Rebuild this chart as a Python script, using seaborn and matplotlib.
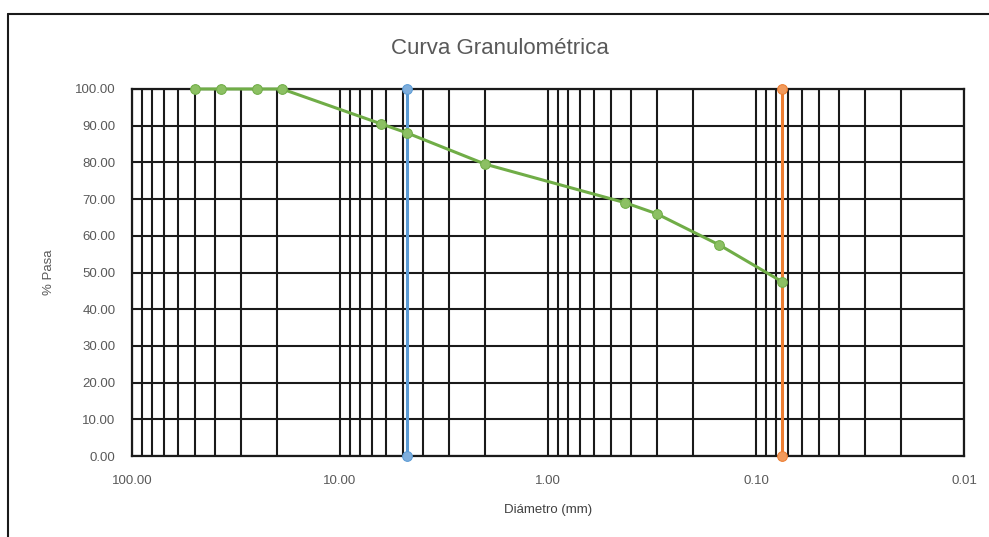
import matplotlib
matplotlib.use("Agg")
import matplotlib.pyplot as plt
import matplotlib.ticker as mticker
from matplotlib.lines import Line2D
import seaborn as sns
import pandas as pd

# Sieve analysis data
diametro = [50.0, 37.5, 25.0, 19.0, 6.35, 4.75, 2.0, 0.425, 0.3, 0.15, 0.075]
pasa = [100.0, 100.0, 100.0, 100.0, 90.5, 88.0, 79.5, 69.0, 66.0, 57.5, 47.5]

# Reference lines (No. 4 and No. 200 sieves)
linea_n4_x = [4.75, 4.75]
linea_n200_x = [0.075, 0.075]
linea_y = [0.0, 100.0]

y_ticks = [0, 10, 20, 30, 40, 50, 60, 70, 80, 90, 100]
x_ticks = [100, 10, 1, 0.1, 0.01]

sns.set_style("white")
plt.rcParams["font.family"] = ["Liberation Sans", "DejaVu Sans"]

fig = plt.figure(figsize=(9.89, 5.37), dpi=100)
ax = fig.add_axes([0.1335, 0.1508, 0.8412, 0.6835])

df = pd.DataFrame({"Diametro": diametro, "Pasa": pasa})
df_n4 = pd.DataFrame({"x": linea_n4_x, "y": linea_y})
df_n200 = pd.DataFrame({"x": linea_n200_x, "y": linea_y})

sns.lineplot(data=df_n4, x="x", y="y", ax=ax, color="#5B9BD5", lw=2.2,
             estimator=None, sort=False,
             marker="o", markersize=7, markerfacecolor="#7FAEDC",
             markeredgecolor="#5B9BD5", zorder=4, clip_on=False)
sns.lineplot(data=df_n200, x="x", y="y", ax=ax, color="#ED7D31", lw=2.2,
             estimator=None, sort=False,
             marker="o", markersize=7, markerfacecolor="#F19A5C",
             markeredgecolor="#ED7D31", zorder=4, clip_on=False)
sns.lineplot(data=df, x="Diametro", y="Pasa", ax=ax, color="#70AD47", lw=2.2,
             estimator=None, sort=False,
             marker="o", markersize=7, markerfacecolor="#8CC063",
             markeredgecolor="#70AD47", zorder=5, clip_on=False)

ax.set_xscale("log")
ax.set_xlim(100, 0.01)
ax.set_ylim(0, 100)
ax.set_xticks(x_ticks)
ax.set_yticks(y_ticks)
ax.xaxis.set_major_formatter(mticker.FormatStrFormatter("%.2f"))
ax.yaxis.set_major_formatter(mticker.FormatStrFormatter("%.2f"))
ax.xaxis.set_minor_locator(mticker.LogLocator(base=10, subs=range(2, 10)))
ax.xaxis.set_minor_formatter(mticker.NullFormatter())

ax.grid(True, which="both", axis="x", color="#1a1a1a", lw=1.5)
ax.grid(True, which="major", axis="y", color="#1a1a1a", lw=1.5)
ax.set_axisbelow(True)
for s in ax.spines.values():
    s.set_visible(True)
    s.set_color("#1a1a1a")
    s.set_linewidth(1.6)

ax.tick_params(axis="both", which="both", length=0, labelsize=9.5,
               labelcolor="#595959")
ax.tick_params(axis="x", pad=14)
ax.tick_params(axis="y", pad=12)

ax.set_xlabel("Diámetro (mm)", fontsize=9.5, color="#404040", labelpad=12)
ax.set_ylabel("% Pasa", fontsize=9.5, color="#595959", labelpad=14)
fig.text(0.5055, 0.91, "Curva Granulométrica", ha="center", va="center",
         fontsize=16, color="#595959")

# outer chart frame
fig.add_artist(Line2D([0.008, 1.0], [0.974, 0.974], transform=fig.transFigure,
                      color="#1a1a1a", lw=1.5))
fig.add_artist(Line2D([0.008, 0.008], [0.0, 0.974], transform=fig.transFigure,
                      color="#1a1a1a", lw=1.5))

fig.savefig("out.png", dpi=100)
